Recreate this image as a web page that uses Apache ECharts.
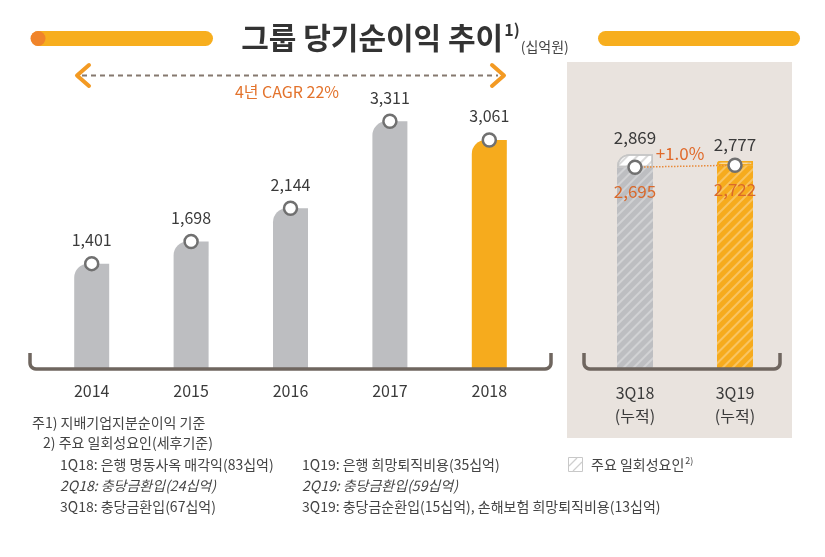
<!DOCTYPE html>
<html>
<head>
<meta charset="utf-8">
<script src="https://cdn.jsdelivr.net/npm/echarts@6/dist/echarts.min.js"></script>
<style>
  html, body { margin: 0; padding: 0; background: #fff; }
  #chart { width: 825px; height: 557px; }
</style>
</head>
<body>
<div id="chart"></div>
<script>
// data
var years = ['2014', '2015', '2016', '2017', '2018'];
var yearValues = [1401, 1698, 2144, 3311, 3061];
var quarters = ['3Q18\n(누적)', '3Q19\n(누적)'];
var quarterBase = [2695, 2722];
var quarterTotal = [2869, 2777];
var growthText = '+1.0%';
var cagrText = '4년 CAGR 22%';
var notesLeft = [
  { t: '1Q18: 은행 명동사옥 매각익(83십억)', i: false },
  { t: '2Q18: 충당금환입(24십억)', i: true },
  { t: '3Q18: 충당금환입(67십억)', i: false }
];
var notesRight = [
  { t: '1Q19: 은행 희망퇴직비용(35십억)', i: false },
  { t: '2Q19: 충당금환입(59십억)', i: true },
  { t: '3Q19: 충당금순환입(15십억), 손해보험 희망퇴직비용(13십억)', i: false }
];

var F = "'Noto Sans CJK KR', 'Noto Sans', sans-serif";
var gray = '#bdbec1';
var orange = '#f6ab1d';
var ink = '#3a3a3a';
var bracket = '#6f665f';
var orangeText = '#e3732c';

function fmt(v) { return Number(v).toLocaleString('en-US'); }

// rounded bracket outline: up-turned ends with small corner radius
function bracketPoints(x0, x1, yb, yt, r) {
  var pts = [[x0, yt], [x0, yb - r]];
  var k;
  for (k = 1; k < 6; k++) {
    var a = Math.PI - (k / 6) * (Math.PI / 2);
    pts.push([x0 + r + r * Math.cos(a), yb - r + r * Math.sin(a)]);
  }
  pts.push([x0 + r, yb], [x1 - r, yb]);
  for (k = 1; k < 6; k++) {
    var b = Math.PI / 2 - (k / 6) * (Math.PI / 2);
    pts.push([x1 - r + r * Math.cos(b), yb - r + r * Math.sin(b)]);
  }
  pts.push([x1, yb - r], [x1, yt]);
  return pts;
}

var chart = echarts.init(document.getElementById('chart'), null, { renderer: 'canvas' });

var hatchLight = { symbol: 'rect', symbolSize: 1, color: 'rgba(255,255,255,0.3)', dashArrayX: [1, 0], dashArrayY: [1.5, 5], rotation: -Math.PI / 4 };
var hatchGrey = { symbol: 'rect', symbolSize: 1, color: 'rgba(170,170,170,0.45)', dashArrayX: [1, 0], dashArrayY: [1.5, 5], rotation: -Math.PI / 4 };

var graphics = [
  // title bars
  { type: 'rect', shape: { x: 31, y: 31, width: 182, height: 15, r: 7.5 }, style: { fill: '#f7ae1e' } },
  { type: 'circle', shape: { cx: 38, cy: 38.5, r: 7.5 }, style: { fill: '#f0842a' } },
  { type: 'rect', shape: { x: 598, y: 31, width: 202, height: 15, r: 7.5 }, style: { fill: '#f7ae1e' } },
  {
    type: 'text', x: 405, y: 38,
    style: {
      text: '{t|그룹 당기순이익 추이}{s|1)}{u|(십억원)}',
      align: 'center', verticalAlign: 'middle',
      rich: {
        t: { fontFamily: F, fontSize: 30, fontWeight: 'bold', fill: '#333', verticalAlign: 'middle' },
        s: { fontFamily: F, fontSize: 16, fontWeight: 'bold', fill: '#333', verticalAlign: 'top', padding: [0, 1, 16, 1] },
        u: { fontFamily: F, fontSize: 14, fill: '#444', verticalAlign: 'bottom', padding: [4, 0, 0, 0] }
      }
    }
  },
  // CAGR arrow
  { type: 'line', shape: { x1: 82, y1: 75.5, x2: 498, y2: 75.5 }, style: { stroke: '#85796f', lineWidth: 2, lineDash: [5, 4] } },
  { type: 'polyline', shape: { points: [[89, 65], [77, 75.5], [89, 86]] }, style: { stroke: '#f39a23', lineWidth: 4, lineCap: 'round', lineJoin: 'round', fill: null } },
  { type: 'polyline', shape: { points: [[492, 65], [504, 75.5], [492, 86]] }, style: { stroke: '#f39a23', lineWidth: 4, lineCap: 'round', lineJoin: 'round', fill: null } },
  { type: 'text', x: 287, y: 92, style: { text: cagrText, fontFamily: F, fontSize: 16, fill: orangeText, align: 'center', verticalAlign: 'middle' } },
  // right panel background
  { type: 'rect', z: -10, shape: { x: 567, y: 62, width: 225, height: 376 }, style: { fill: '#e9e3de' } },
  // brackets
  { type: 'polyline', z: 10, shape: { points: bracketPoints(30, 551, 369, 353, 6) }, style: { stroke: bracket, lineWidth: 3.5, fill: null } },
  { type: 'polyline', z: 10, shape: { points: bracketPoints(584, 780, 369, 353, 6) }, style: { stroke: bracket, lineWidth: 3.5, fill: null } },
  { type: 'text', z: 10, x: 680, y: 154, style: { text: growthText, fontFamily: F, fontSize: 17, fill: '#e06a2b', align: 'center', verticalAlign: 'middle' } },
  // footnotes
  { type: 'text', x: 32, y: 423, style: { text: '주1) 지배기업지분순이익 기준', fontFamily: F, fontSize: 14, fill: '#444', verticalAlign: 'middle' } },
  { type: 'text', x: 43, y: 443, style: { text: '2) 주요 일회성요인(세후기준)', fontFamily: F, fontSize: 14, fill: '#444', verticalAlign: 'middle' } },
  // legend
  { type: 'rect', shape: { x: 568.5, y: 457.5, width: 14, height: 14 }, style: { fill: '#fff', stroke: '#c8c8c8', lineWidth: 1 } },
  { type: 'line', shape: { x1: 569, y1: 466, x2: 577, y2: 458 }, style: { stroke: '#cfcfcf', lineWidth: 1.2 } },
  { type: 'line', shape: { x1: 573, y1: 471, x2: 582, y2: 462 }, style: { stroke: '#cfcfcf', lineWidth: 1.2 } },
  {
    type: 'text', x: 591, y: 465,
    style: {
      text: '{a|주요 일회성요인}{b|2)}', verticalAlign: 'middle',
      rich: {
        a: { fontFamily: F, fontSize: 14, fill: '#444' },
        b: { fontFamily: F, fontSize: 9, fill: '#444', verticalAlign: 'top', padding: [0, 0, 8, 1] }
      }
    }
  }
];
notesLeft.forEach(function (n, k) {
  graphics.push({ type: 'text', x: 60, y: 465 + k * 21, style: { text: n.t, fontFamily: F, fontSize: 14, fontStyle: n.i ? 'italic' : 'normal', fill: '#444', verticalAlign: 'middle' } });
});
notesRight.forEach(function (n, k) {
  graphics.push({ type: 'text', x: 302, y: 465 + k * 21, style: { text: n.t, fontFamily: F, fontSize: 14, fontStyle: n.i ? 'italic' : 'normal', fill: '#444', verticalAlign: 'middle' } });
});

chart.setOption({
  animation: false,
  backgroundColor: '#fff',
  textStyle: { fontFamily: F },
  grid: [
    { left: 42, width: 497, top: 70, bottom: 189 },
    { left: 585, width: 200, top: 70, bottom: 189 }
  ],
  xAxis: [
    {
      type: 'category', gridIndex: 0, data: years,
      axisLine: { show: false }, axisTick: { show: false },
      axisLabel: { color: ink, fontSize: 16, margin: 15, fontFamily: F }
    },
    {
      type: 'category', gridIndex: 1, data: quarters,
      axisLine: { show: false }, axisTick: { show: false },
      axisLabel: { color: ink, fontSize: 16, lineHeight: 23, margin: 13, fontFamily: F }
    }
  ],
  yAxis: [
    { type: 'value', gridIndex: 0, min: 0, max: 4000, show: false },
    { type: 'value', gridIndex: 1, min: 0, max: 4000, show: false }
  ],
  graphic: { elements: graphics },
  series: [
    {
      type: 'bar', xAxisIndex: 0, yAxisIndex: 0, barWidth: 35,
      data: yearValues.map(function (v, i) {
        return { value: v, itemStyle: { color: i === yearValues.length - 1 ? orange : gray, borderRadius: [14, 0, 0, 0] } };
      })
    },
    {
      type: 'line', xAxisIndex: 0, yAxisIndex: 0, data: yearValues, z: 5,
      symbol: 'circle', symbolSize: 13,
      lineStyle: { width: 0, opacity: 0 },
      itemStyle: { color: '#fff', borderColor: '#707070', borderWidth: 2.5 },
      label: { show: true, position: 'top', distance: 8, color: ink, fontSize: 16, fontFamily: F, formatter: function (p) { return fmt(p.value); } }
    },
    {
      type: 'bar', xAxisIndex: 1, yAxisIndex: 1, barWidth: 36, stack: 'q',
      data: quarterBase.map(function (v, i) {
        return { value: v, itemStyle: { color: i === 0 ? gray : orange, decal: hatchLight } };
      })
    },
    {
      type: 'bar', xAxisIndex: 1, yAxisIndex: 1, barWidth: 36, stack: 'q',
      data: quarterTotal.map(function (v, i) {
        return {
          value: v - quarterBase[i],
          itemStyle: { color: '#fff', borderColor: i === 0 ? '#c6c6c6' : orange, borderWidth: 1.5, borderRadius: [14, 0, 0, 0], decal: hatchGrey }
        };
      }),
      label: { show: true, position: 'top', distance: 8, color: ink, fontSize: 17, fontFamily: F, formatter: function (p) { return fmt(quarterTotal[p.dataIndex]); } }
    },
    {
      type: 'line', xAxisIndex: 1, yAxisIndex: 1, data: quarterBase, z: 5,
      symbol: 'circle', symbolSize: 13,
      lineStyle: { color: '#e88a3a', width: 1.5, type: 'dotted' },
      itemStyle: { color: '#fff', borderColor: '#707070', borderWidth: 2.5 },
      label: { show: true, position: 'bottom', distance: 8, color: '#d9692b', fontSize: 17, fontFamily: F, formatter: function (p) { return fmt(p.value); } }
    }
  ]
});
</script>
</body>
</html>
